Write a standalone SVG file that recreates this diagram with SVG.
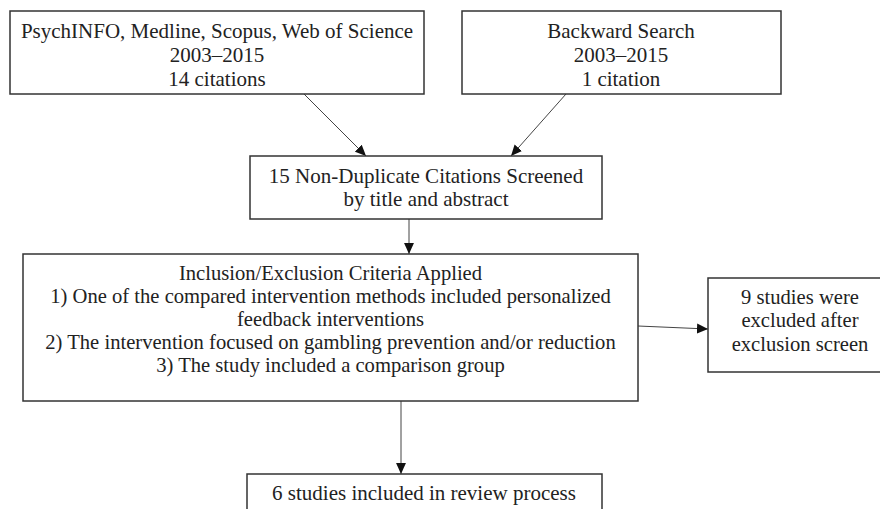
<svg xmlns="http://www.w3.org/2000/svg" width="880" height="509" viewBox="0 0 880 509">
<style>
.box{fill:#fff;stroke:#333;stroke-width:1.5}
.t{font-family:"Liberation Serif","Times New Roman",serif;font-size:21px;fill:#222;text-anchor:middle}
.c{font-family:"Liberation Serif","Times New Roman",serif;font-size:20.6px;fill:#222;text-anchor:middle}
.ln{stroke:#444;stroke-width:1;fill:none;marker-end:url(#ah)}
</style>
<defs>
<marker id="ah" viewBox="0 0 10 10" refX="10" refY="5" markerWidth="11" markerHeight="11" markerUnits="userSpaceOnUse" orient="auto">
<path d="M0,0.5 L10,5 L0,9.5 Z" fill="#111"/>
</marker>
</defs>
<rect width="880" height="509" fill="#fff"/>
<g id="connectors">
<line class="ln" x1="304" y1="94" x2="366" y2="156"/>
<line class="ln" x1="566" y1="94" x2="511" y2="156"/>
<line class="ln" x1="409" y1="219" x2="409" y2="254"/>
<line class="ln" x1="638" y1="326" x2="708" y2="329"/>
<line class="ln" x1="401" y1="401" x2="401" y2="474"/>
</g>
<g id="db-search">
<rect class="box" x="10" y="11" width="414" height="83"/>
<text class="t" x="217" y="38">PsychINFO, Medline, Scopus, Web of Science</text>
<text class="t" x="217" y="62">2003–2015</text>
<text class="t" x="217" y="86">14 citations</text>
</g>
<g id="backward-search">
<rect class="box" x="462" y="11" width="319" height="83"/>
<text class="t" x="621" y="38">Backward Search</text>
<text class="t" x="621" y="62">2003–2015</text>
<text class="t" x="621" y="86">1 citation</text>
</g>
<g id="screened">
<rect class="box" x="250" y="156" width="352" height="63"/>
<text class="t" x="426" y="183">15 Non-Duplicate Citations Screened</text>
<text class="t" x="426" y="206">by title and abstract</text>
</g>
<g id="criteria">
<rect class="box" x="23" y="254" width="615" height="147"/>
<text class="c" x="330.5" y="280">Inclusion/Exclusion Criteria Applied</text>
<text class="c" x="330.5" y="303">1) One of the compared intervention methods included personalized</text>
<text class="c" x="330.5" y="326">feedback interventions</text>
<text class="c" x="330.5" y="349">2) The intervention focused on gambling prevention and/or reduction</text>
<text class="c" x="330.5" y="372">3) The study included a comparison group</text>
</g>
<g id="excluded">
<rect class="box" x="708" y="278" width="184" height="94"/>
<text class="c" x="800" y="304">9 studies were</text>
<text class="c" x="800" y="327">excluded after</text>
<text class="c" x="800" y="351">exclusion screen</text>
</g>
<g id="included">
<rect class="box" x="247" y="474" width="355" height="45"/>
<text class="t" x="424" y="500">6 studies included in review process</text>
</g>
</svg>
